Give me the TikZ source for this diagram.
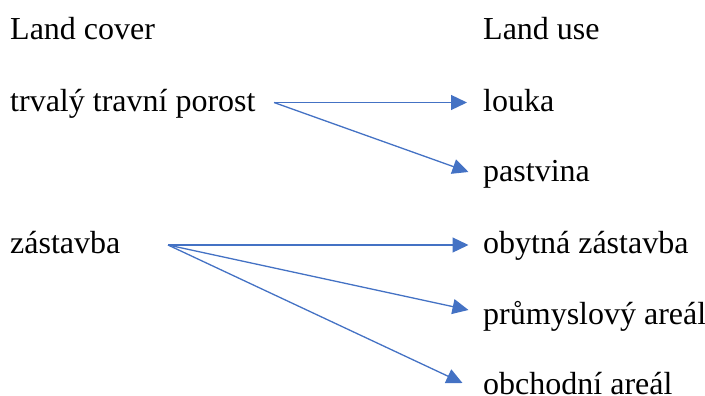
\documentclass[tikz,border=0pt]{standalone}
\usepackage{fontspec}
\setmainfont{Liberation Serif}
\usetikzlibrary{arrows.meta}
\definecolor{arrowblue}{HTML}{4472C4}
\begin{document}
\begin{tikzpicture}[x=1pt,y=-1pt,
  lbl/.style={anchor=base west,inner sep=0pt,font=\fontsize{32}{38}\selectfont},
  conn/.style={draw=arrowblue,line width=1.3pt,-{Triangle[length=16pt,width=15pt]}}]
\useasboundingbox (0,0) rectangle (705,396);
\node[lbl] (lc) at (10,40) {Land cover};
\node[lbl] (lu) at (483,40) {Land use};
\node[lbl] (ttp) at (10,111.5) {trvalý travní porost};
\node[lbl] (louka) at (483,111.5) {louka};
\node[lbl] (past) at (483,182) {pastvina};
\node[lbl] (zast) at (10,253) {zástavba};
\node[lbl] (obyt) at (483,253) {obytná zástavba};
\node[lbl] (prum) at (483,324.5) {průmyslový areál};
\node[lbl] (obch) at (483,394) {obchodní areál};
\coordinate (s1) at (274,102.5);
\coordinate (s2) at (168,245);
\coordinate (t1) at (467,102.5);
\coordinate (t2) at (468.5,172);
\coordinate (t3) at (468.5,245);
\coordinate (t4) at (468.5,310);
\coordinate (t5) at (462.5,383);
\draw[conn] (s1) -- (t1);
\draw[conn] (s1) -- (t2);
\draw[conn] (s2) -- (t3);
\draw[conn] (s2) -- (t4);
\draw[conn] (s2) -- (t5);
\end{tikzpicture}
\end{document}
